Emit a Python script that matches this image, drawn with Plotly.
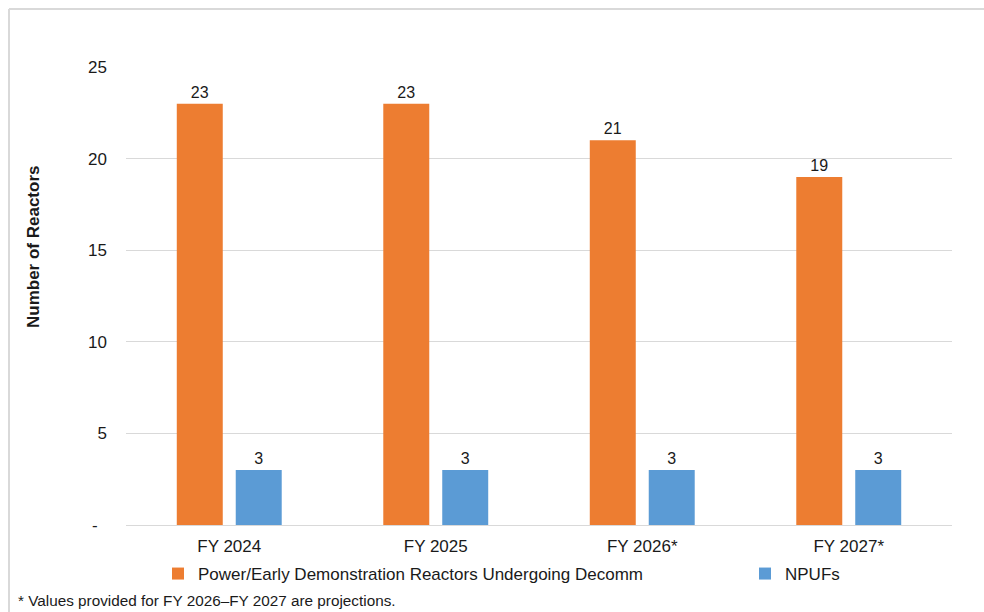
import plotly.graph_objects as go

# Fiscal years and reactor counts
years = ["FY 2024", "FY 2025", "FY 2026*", "FY 2027*"]
power_reactors = [23, 23, 21, 19]
npufs = [3, 3, 3, 3]

series_names = ["Power/Early Demonstration Reactors Undergoing Decomm", "NPUFs"]
series_colors = ["#ED7D31", "#5B9BD5"]

y_tick_vals = [0, 5, 10, 15, 20, 25]
y_tick_text = ["-\u00a0\u00a0", "5", "10", "15", "20", "25"]

footnote = "* Values provided for FY 2026\u2013FY 2027 are projections."
y_title = "Number of Reactors"

W, H = 984, 612
ML, MR, MT, MB = 126, 32, 67, 87
PW, PH = W - ML - MR, H - MT - MB


def px_x(x):
    return (x - ML) / PW


def px_y(y):
    return (H - MB - y) / PH


FONT = "Liberation Sans, Arial, sans-serif"
TXT = "#1a1a1a"

fig = go.Figure()
legend_ids = ["legend", "legend2"]
for name, vals, color, lg in zip(series_names, [power_reactors, npufs], series_colors, legend_ids):
    fig.add_trace(go.Bar(
        name=name,
        x=years,
        y=vals,
        legend=lg,
        marker=dict(color=color, line=dict(width=0)),
        texttemplate="%{y}",
        textposition="outside",
        textfont=dict(size=16, color=TXT, family=FONT),
        cliponaxis=False,
    ))

legend_common = dict(
    orientation="h",
    xref="paper",
    yref="paper",
    xanchor="left",
    y=px_y(574),
    yanchor="middle",
    font=dict(size=17, family=FONT, color=TXT),
    bgcolor="rgba(0,0,0,0)",
)

fig.update_layout(
    width=W,
    height=H,
    margin=dict(l=ML, r=MR, t=MT, b=MB, autoexpand=False),
    paper_bgcolor="white",
    plot_bgcolor="white",
    font=dict(family=FONT, size=17, color=TXT),
    barmode="group",
    bargap=0.429,
    bargroupgap=0.22,
    showlegend=True,
    legend=dict(x=px_x(158), **legend_common),
    legend2=dict(x=px_x(745), **legend_common),
    xaxis=dict(
        showgrid=False,
        showline=True,
        linecolor="#D9D9D9",
        linewidth=1,
        ticks="",
        tickfont=dict(size=17),
        ticklabelstandoff=6,
    ),
    yaxis=dict(
        range=[0, 25],
        tickvals=y_tick_vals,
        ticktext=y_tick_text,
        showgrid=True,
        gridcolor="#D9D9D9",
        gridwidth=1,
        zeroline=False,
        showline=False,
        ticks="",
        tickfont=dict(size=17),
        ticklabelstandoff=18,
    ),
    shapes=[
        # outer chart frame
        dict(type="line", xref="paper", yref="paper",
             x0=px_x(9), x1=px_x(W + 20), y0=px_y(9), y1=px_y(9),
             line=dict(color="#D9D9D9", width=2)),
        dict(type="line", xref="paper", yref="paper",
             x0=px_x(9), x1=px_x(9), y0=px_y(9), y1=px_y(H + 20),
             line=dict(color="#D9D9D9", width=2)),
    ],
    annotations=[
        dict(text=f"<b>{y_title}</b>", textangle=-90, xref="paper", yref="paper",
             x=px_x(33), y=px_y(247), xanchor="center", yanchor="middle",
             showarrow=False, font=dict(size=17, family=FONT, color=TXT)),
        dict(text=footnote, xref="paper", yref="paper",
             x=px_x(16), y=px_y(600), xanchor="left", yanchor="middle",
             showarrow=False, font=dict(size=15.3, family=FONT, color=TXT)),
    ],
)

fig.write_html("out.html")
